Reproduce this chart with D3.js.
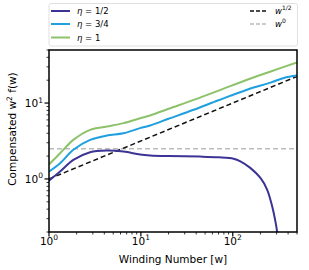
<!DOCTYPE html>
<html>
<head>
<meta charset="utf-8">
<script src="https://cdn.jsdelivr.net/npm/d3@7"></script>
<style>
  body { margin: 0; background: #fff; }
  text { font-family: "DejaVu Sans", sans-serif; }
</style>
</head>
<body>
<div id="chart"></div>
<script>
// winding number grids and compensated values
const wHalf = [1, 1.32, 1.84, 2.8, 4.26, 6.46, 9.8, 12.6, 20, 44, 70, 102, 121, 155, 200, 237, 269, 292, 304, 315];
const fHalf = [0.95, 1.25, 1.78, 2.25, 2.37, 2.3, 2.1, 2.04, 2.0, 1.97, 1.93, 1.85, 1.71, 1.4, 1.03, 0.72, 0.43, 0.27, 0.2, 0.12];

const wThreeQ = [1, 1.32, 1.84, 2.8, 4.26, 6.46, 9.8, 12.6, 20, 37.5, 70, 143, 257, 359, 500];
const fThreeQ = [1.25, 1.61, 2.42, 3.27, 3.73, 4.0, 4.67, 5.06, 6.2, 8.15, 10.9, 15.0, 18.6, 21.4, 23.0];

const wOne = [1, 1.32, 1.84, 2.8, 4.26, 6.46, 9.8, 12.6, 20, 37.5, 70, 143, 250, 500];
const fOne = [1.55, 2.18, 3.27, 4.44, 4.9, 5.44, 6.3, 6.86, 8.4, 11.0, 14.6, 20.3, 25.7, 34.4];

const wRef = [1, 500];
const fSqrt = [1, 22.4];
const fFlat = [2.5, 2.5];

const xMajor = [1, 10, 100];
const xMajorExp = ['0', '1', '2'];
const yMajor = [1, 10];
const yMajorExp = ['0', '1'];

const width = 309;
const height = 270;
const plot = { left: 49, right: 297, top: 50, bottom: 232 };

const svg = d3.select('#chart')
  .append('svg')
  .attr('width', width)
  .attr('height', height);

const x = d3.scaleLog().domain([1, 500]).range([plot.left, plot.right]);
const y = d3.scaleLog().domain([0.2, 50]).range([plot.bottom, plot.top]);

svg.append('clipPath')
  .attr('id', 'clip')
  .append('rect')
  .attr('x', plot.left)
  .attr('y', plot.top)
  .attr('width', plot.right - plot.left)
  .attr('height', plot.bottom - plot.top);

const line = d3.line()
  .x(d => x(d[0]))
  .y(d => y(d[1]))
  .curve(d3.curveCatmullRom.alpha(0.5));

const series = [
  { w: wRef, f: fFlat, color: '#bbbbbb', dash: '5,3', width: 1.5 },
  { w: wRef, f: fSqrt, color: '#111111', dash: '5,3', width: 1.5 },
  { w: wOne, f: fOne, color: '#8dc26b', dash: null, width: 2 },
  { w: wThreeQ, f: fThreeQ, color: '#1d9fe0', dash: null, width: 2 },
  { w: wHalf, f: fHalf, color: '#3b3494', dash: null, width: 2 }
];

const gLines = svg.append('g').attr('clip-path', 'url(#clip)');
series.forEach(s => {
  gLines.append('path')
    .datum(s.w.map((w, i) => [w, s.f[i]]))
    .attr('fill', 'none')
    .attr('stroke', s.color)
    .attr('stroke-width', s.width)
    .attr('stroke-dasharray', s.dash)
    .attr('d', line);
});

// minor ticks
const xMinor = [];
[1, 10, 100].forEach(base => {
  for (let k = 2; k <= 9; k++) if (base * k <= 500) xMinor.push(base * k);
});
const yMinor = [];
[0.1, 1, 10].forEach(base => {
  for (let k = 2; k <= 9; k++) {
    const v = base * k;
    if (v >= 0.2 && v <= 50) yMinor.push(v);
  }
});

const axisColor = '#000';
svg.append('g').selectAll('line')
  .data(xMinor)
  .enter()
  .append('line')
  .attr('x1', d => x(d)).attr('x2', d => x(d))
  .attr('y1', plot.bottom).attr('y2', plot.bottom + 2.5)
  .attr('stroke', axisColor).attr('stroke-width', 0.8);

svg.append('g').selectAll('line')
  .data(xMajor)
  .enter()
  .append('line')
  .attr('x1', d => x(d)).attr('x2', d => x(d))
  .attr('y1', plot.bottom).attr('y2', plot.bottom + 4.5)
  .attr('stroke', axisColor).attr('stroke-width', 1.2);

svg.append('g').selectAll('line')
  .data(yMinor)
  .enter()
  .append('line')
  .attr('y1', d => y(d)).attr('y2', d => y(d))
  .attr('x1', plot.left).attr('x2', plot.left - 2.5)
  .attr('stroke', axisColor).attr('stroke-width', 0.8);

svg.append('g').selectAll('line')
  .data(yMajor)
  .enter()
  .append('line')
  .attr('y1', d => y(d)).attr('y2', d => y(d))
  .attr('x1', plot.left).attr('x2', plot.left - 4.5)
  .attr('stroke', axisColor).attr('stroke-width', 1.2);

// tick labels as 10^n
const xLabels = svg.append('g').selectAll('text')
  .data(xMajor)
  .enter()
  .append('text')
  .attr('x', d => x(d))
  .attr('y', plot.bottom + 12.5)
  .attr('text-anchor', 'middle')
  .attr('font-size', 10.5);
xLabels.append('tspan').text('10');
xLabels.append('tspan').attr('dy', -4.5).attr('font-size', 7.5).text((d, i) => xMajorExp[i]);

const yLabels = svg.append('g').selectAll('text')
  .data(yMajor)
  .enter()
  .append('text')
  .attr('x', plot.left - 6)
  .attr('y', d => y(d) + 4)
  .attr('text-anchor', 'end')
  .attr('font-size', 10.5);
yLabels.append('tspan').text('10');
yLabels.append('tspan').attr('dy', -4.5).attr('font-size', 7.5).text((d, i) => yMajorExp[i]);

// frame
svg.append('rect')
  .attr('x', plot.left)
  .attr('y', plot.top)
  .attr('width', plot.right - plot.left)
  .attr('height', plot.bottom - plot.top)
  .attr('fill', 'none')
  .attr('stroke', '#000')
  .attr('stroke-width', 1.5);

// axis labels
svg.append('text')
  .attr('x', (plot.left + plot.right) / 2)
  .attr('y', 263)
  .attr('text-anchor', 'middle')
  .attr('font-size', 10.5)
  .text('Winding Number [w]');

const yLab = svg.append('text')
  .attr('transform', 'translate(16,129) rotate(-90)')
  .attr('text-anchor', 'middle')
  .attr('font-size', 10.5);
yLab.append('tspan').text('Compensated w');
yLab.append('tspan').attr('dy', -4).attr('font-size', 7.5).text('2');
yLab.append('tspan').attr('dy', 4).text(' f(w)');

// legend
const legend = svg.append('g');
legend.append('rect')
  .attr('x', 49)
  .attr('y', 3.5)
  .attr('width', 248.5)
  .attr('height', 42.5)
  .attr('rx', 2)
  .attr('fill', '#fff')
  .attr('stroke', '#d8d8d8')
  .attr('stroke-width', 0.8);

const legendLeft = [
  { color: '#3b3494', label: '1/2', y: 11 },
  { color: '#1d9fe0', label: '3/4', y: 24 },
  { color: '#8dc26b', label: '1', y: 37.5 }
];
legendLeft.forEach(d => {
  legend.append('line')
    .attr('x1', 51).attr('x2', 70)
    .attr('y1', d.y).attr('y2', d.y)
    .attr('stroke', d.color).attr('stroke-width', 2);
  const t = legend.append('text')
    .attr('x', 77)
    .attr('y', d.y + 3)
    .attr('font-size', 8.5);
  t.append('tspan').attr('font-style', 'italic').text('η');
  t.append('tspan').text(' = ' + d.label);
});

const legendRight = [
  { color: '#111111', exp: '1/2', y: 11 },
  { color: '#bbbbbb', exp: '0', y: 24 }
];
legendRight.forEach(d => {
  legend.append('line')
    .attr('x1', 250).attr('x2', 268)
    .attr('y1', d.y).attr('y2', d.y)
    .attr('stroke', d.color).attr('stroke-width', 1.5)
    .attr('stroke-dasharray', '4,2');
  const t = legend.append('text')
    .attr('x', 275)
    .attr('y', d.y + 3)
    .attr('font-size', 8.5);
  t.append('tspan').attr('font-style', 'italic').text('w');
  t.append('tspan').attr('dy', -4).attr('font-size', 6).text(d.exp);
});
</script>
</body>
</html>
